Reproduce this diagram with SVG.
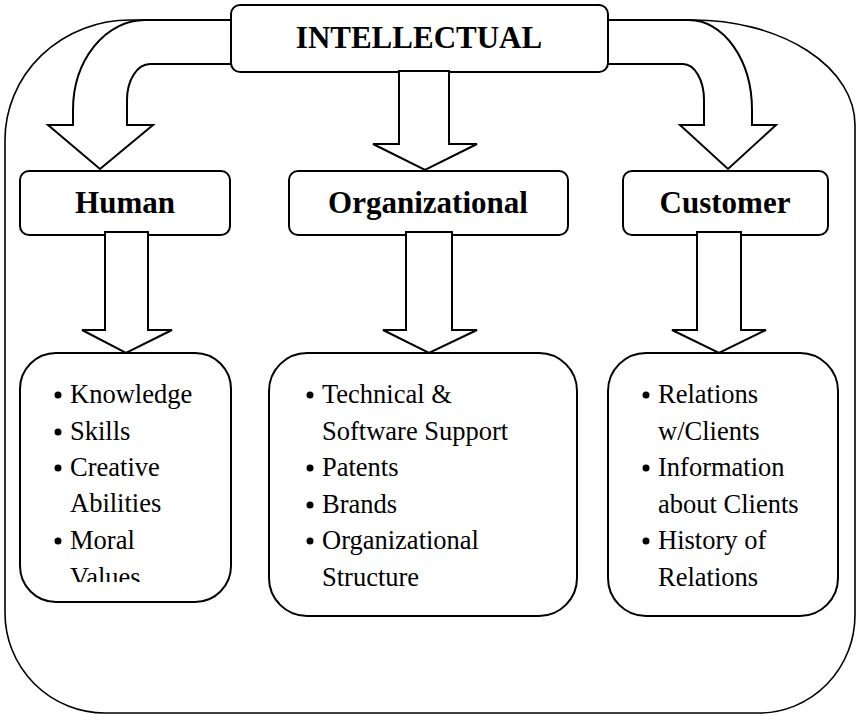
<svg xmlns="http://www.w3.org/2000/svg" width="856" height="714" viewBox="0 0 856 714">
<style>
.ln{fill:#fff;stroke:#000;stroke-width:2;stroke-linejoin:miter}
.fr{fill:none;stroke:#000;stroke-width:1.6}
.h{font-family:"Liberation Serif","Times New Roman",serif;font-weight:bold;font-size:31px;text-anchor:middle;fill:#000}
.t{font-family:"Liberation Serif","Times New Roman",serif;font-size:26.5px;fill:#000}
.b{fill:#000}
</style>
<defs>
<clipPath id="clipH"><rect x="20" y="353" width="212" height="229"/></clipPath>
</defs>
<rect x="0" y="0" width="856" height="714" fill="#fff"/>
<path id="frame" class="fr" d="M130,20 H693 A162 105 0 0 1 855 125 V615 A96 98 0 0 1 759 713 H105 A100 100 0 0 1 5 613 V140 A125 120 0 0 1 130 20 Z"/>
<g id="connectors">
<path class="ln" d="M231,20 H145 A72 90 0 0 0 73 110 V125 H48 L100 169 L153 125 H127 V100 A23 36 0 0 1 150 64 H231 Z"/>
<path class="ln" d="M608,20 H689 A63 90 0 0 1 752 110 V125 H776 L728 169 L680 125 H704 V100 A21 36 0 0 0 683 64 H608 Z"/>
</g>
<g id="intellectual">
<rect class="ln" x="231" y="5" width="377" height="67" rx="9"/>
<text class="h" x="419" y="48">INTELLECTUAL</text>
</g>
<g id="human">
<rect class="ln" x="20" y="171" width="210" height="64" rx="9"/>
<text class="h" x="125" y="213">Human</text>
</g>
<g id="organizational">
<rect class="ln" x="289" y="171" width="279" height="64" rx="9"/>
<text class="h" x="428" y="213">Organizational</text>
</g>
<g id="customer">
<rect class="ln" x="623" y="171" width="205" height="64" rx="9"/>
<text class="h" x="725" y="213">Customer</text>
</g>
<g id="connectors2">
<path class="ln" d="M399,71 V144 H373 L425 170 L477 144 H449 V71 Z"/>
<path class="ln" d="M105,232 V330 H82 L126 353 L172 330 H148 V232 Z"/>
<path class="ln" d="M406,232 V330 H383 L429 353 L477 330 H452 V232 Z"/>
<path class="ln" d="M697,232 V330 H672 L719 353 L766 330 H741 V232 Z"/>
</g>
<g id="human-list">
<rect class="ln" x="20" y="353" width="211" height="249" rx="36"/>
<g clip-path="url(#clipH)">
<circle class="b" cx="58" cy="395" r="3.5"/>
<text class="t" x="70" y="403">Knowledge</text>
<circle class="b" cx="58" cy="432" r="3.5"/>
<text class="t" x="70" y="440">Skills</text>
<circle class="b" cx="58" cy="468" r="3.5"/>
<text class="t" x="70" y="476">Creative</text>
<text class="t" x="70" y="512">Abilities</text>
<circle class="b" cx="58" cy="541" r="3.5"/>
<text class="t" x="70" y="549">Moral</text>
<text class="t" x="70" y="586">Values</text>
</g>
</g>
<g id="organizational-list">
<rect class="ln" x="269" y="353" width="308" height="263" rx="38"/>
<circle class="b" cx="310" cy="395" r="3.5"/>
<text class="t" x="322" y="403">Technical &amp;</text>
<text class="t" x="322" y="440">Software Support</text>
<circle class="b" cx="310" cy="468" r="3.5"/>
<text class="t" x="322" y="476">Patents</text>
<circle class="b" cx="310" cy="505" r="3.5"/>
<text class="t" x="322" y="513">Brands</text>
<circle class="b" cx="310" cy="541" r="3.5"/>
<text class="t" x="322" y="549">Organizational</text>
<text class="t" x="322" y="586">Structure</text>
</g>
<g id="customer-list">
<rect class="ln" x="608" y="353" width="230" height="263" rx="38"/>
<circle class="b" cx="646" cy="395" r="3.5"/>
<text class="t" x="658" y="403">Relations</text>
<text class="t" x="658" y="440">w/Clients</text>
<circle class="b" cx="646" cy="468" r="3.5"/>
<text class="t" x="658" y="476">Information</text>
<text class="t" x="658" y="513">about Clients</text>
<circle class="b" cx="646" cy="541" r="3.5"/>
<text class="t" x="658" y="549">History of</text>
<text class="t" x="658" y="586">Relations</text>
</g>
</svg>
